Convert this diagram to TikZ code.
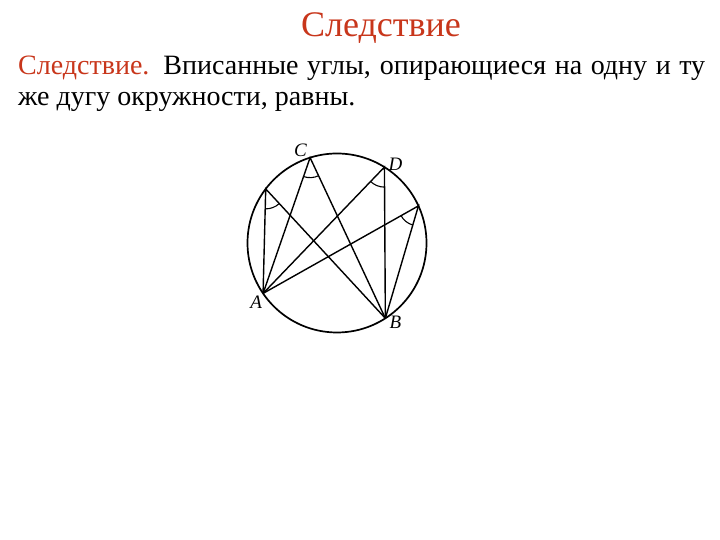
\documentclass[tikz,border=0pt]{standalone}
\usepackage{fontspec}
\setmainfont{Liberation Serif}
\usetikzlibrary{angles,calc}
\definecolor{titlered}{HTML}{C8361B}

\begin{document}
\begin{tikzpicture}[x=1pt,y=1pt,
  lbl/.style={font=\fontsize{19}{19}\selectfont\itshape, inner sep=1pt},
  chord/.style={line width=1.4pt},
  anglemark/.style={draw, line width=1.1pt, angle radius=20pt}]
  \useasboundingbox (0,0) rectangle (720,540);

  \node[font=\fontsize{36}{36}\selectfont, text=titlered, anchor=base] (title) at (381,503) {Следствие};
  \node[anchor=base west, inner sep=0pt, text width=687pt, align=justify,
        font=\fontsize{28}{31}\selectfont] (text) at (18,465)
    {\textcolor{titlered}{Следствие.} Вписанные углы, опирающиеся на одну и ту же дугу окружности, равны.};

  % circle and points on it
  \coordinate (O) at (337,297);
  \draw[line width=1.7pt] (O) circle (89.5);
  \coordinate (A) at ($(O)+(214.3:89.5)$);
  \coordinate (B) at ($(O)+(302.7:89.5)$);
  \coordinate (C) at ($(O)+(107.5:89.5)$);
  \coordinate (D) at ($(O)+(58:89.5)$);
  \coordinate (E) at ($(O)+(142.8:89.5)$);
  \coordinate (F) at ($(O)+(24.5:89.5)$);

  \draw[chord] (A) -- (E) -- (B);
  \draw[chord] (A) -- (C) -- (B);
  \draw[chord] (A) -- (D) -- (B);
  \draw[chord] (A) -- (F) -- (B);

  \pic[anglemark] {angle=A--C--B};
  \pic[anglemark] {angle=A--D--B};
  \pic[anglemark] {angle=A--E--B};
  \pic[anglemark] {angle=A--F--B};

  \node[lbl, anchor=south east] (labC) at ([shift={(-2,0)}]C) {C};
  \node[lbl, anchor=south west] (labD) at ([shift={(3,-5)}]D) {D};
  \node[lbl, anchor=north east] (labA) at ([shift={(0,-1)}]A) {A};
  \node[lbl, anchor=north west] (labB) at ([shift={(3,3)}]B) {B};
\end{tikzpicture}
\end{document}
